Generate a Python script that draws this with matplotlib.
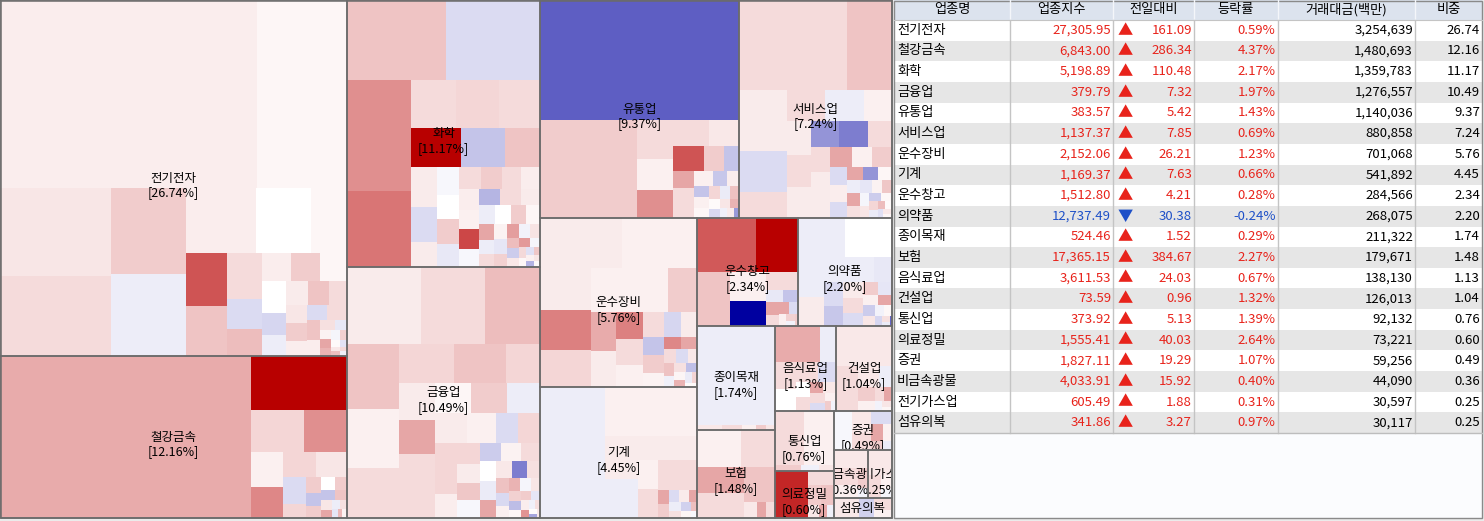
import numpy as np
import matplotlib.pyplot as plt
from matplotlib.patches import Rectangle
from matplotlib.transforms import Bbox, TransformedBbox

plt.rcParams['font.family'] = ['Noto Sans CJK KR', 'DejaVu Sans']

#--------------------- sector table --------------------------

sectors = ['전기전자', '철강금속', '화학', '금융업', '유통업', '서비스업', '운수장비', '기계',
           '운수창고', '의약품', '종이목재', '보험', '음식료업', '건설업', '통신업', '의료정밀',
           '증권', '비금속광물', '전기가스업', '섬유의복']
index_vals = [27305.95, 6843.00, 5198.89, 379.79, 383.57, 1137.37, 2152.06, 1169.37, 1512.80, 12737.49,
              524.46, 17365.15, 3611.53, 73.59, 373.92, 1555.41, 1827.11, 4033.91, 605.49, 341.86]
diff_vals = [161.09, 286.34, 110.48, 7.32, 5.42, 7.85, 26.21, 7.63, 4.21, -30.38,
             1.52, 384.67, 24.03, 0.96, 5.13, 40.03, 19.29, 15.92, 1.88, 3.27]
pct_vals = [0.59, 4.37, 2.17, 1.97, 1.43, 0.69, 1.23, 0.66, 0.28, -0.24,
            0.29, 2.27, 0.67, 1.32, 1.39, 2.64, 1.07, 0.40, 0.31, 0.97]
amount_vals = [3254639, 1480693, 1359783, 1276557, 1140036, 880858, 701068, 541892, 284566, 268075,
               211322, 179671, 138130, 126013, 92132, 73221, 59256, 44090, 30597, 30117]
weight_vals = [26.74, 12.16, 11.17, 10.49, 9.37, 7.24, 5.76, 4.45, 2.34, 2.20,
               1.74, 1.48, 1.13, 1.04, 0.76, 0.60, 0.49, 0.36, 0.25, 0.25]
headers = ['업종명', '업종지수', '전일대비', '등락률', '거래대금(백만)', '비중']

#--------------------- stocks inside each sector (size, change %) --------------------------

elec_w = [47564, 16732, 9592, 8720, 6364, 6068, 4450, 3500, 2280, 2204, 2028, 1560, 1014, 930, 837, 775,
          800, 750, 500, 504, 400, 380, 320, 500, 400, 300, 250, 200, 500, 300, 100, 150, 120, 100, 90,
          80, 70, 60, 50, 40, 40, 30, 30]
elec_c = [0.7, 0.35, 1.0, 1.4, 2.0, -0.7, 0.7, 0.0, 0.35, 6.7, 2.3, 1.4, -1.4, 2.6, 0.7, 0.35,
          2.0, 0.0, 2.3, -1.6, 1.0, 2.0, 0.7, 0.8, 1.4, 1.4, 2.3, 0.7, -0.7, -1.4, 3.5, 1.2, -0.9, 0.5, 3.0,
          -0.4, 1.8, 0.2, -1.1, 2.5, 0.9, -0.6, 1.5]

steel_w = [39528, 4998, 2160, 1760, 1102, 828, 759, 957, 608, 234, 169, 169, 143, 195, 304,
           150, 120, 100, 80, 70, 60, 50, 40, 40]
steel_c = [3.3, 11.0, 1.6, 4.4, 0.6, 1.6, 1.0, 4.7, -1.4, 2.0, 0.0, 2.0, -2.3, -2.3, 1.6,
           2.0, 2.3, 1.0, 3.5, -0.7, 1.2, -1.0, 0.5, 2.8]

chem_w = [7821, 7505, 7056, 4788, 2162, 2021, 1974, 1938, 1672, 1368, 1066, 936, 676, 609, 525, 504,
          525, 484, 462, 440, 420, 380, 342, 300, 400, 380, 360, 340, 320, 300, 280, 260, 240, 220,
          200, 190, 180, 170, 160, 150, 140, 130, 120, 110, 100, 90, 80, 70, 60, 55, 50, 45, 40, 35]
chem_c = [2.3, -1.4, 4.4, 5.4, 1.4, 1.6, 1.4, 11.0, -2.3, 2.3, 0.8, -1.4, 0.8, -0.3, 2.0, -0.9,
          0.0, 1.4, 2.0, 1.4, 0.7, 7.2, -2.9, 0.0, 0.7, 0.6, -0.3, 1.4, 0.8, -0.7, 2.0, 0.35, 3.5, -0.7,
          1.4, 0.5, -1.0, 1.8, 3.8, -0.5, 1.1, 2.6, -2.0, 0.9, 4.0, -0.4, 1.5, 0.3, -1.2, 2.2, 0.6, -3.0, 1.0, 0.2]

fin_w = [5698, 4928, 4235, 3397, 2107, 1978, 3040, 1330, 1330, 2627, 1221, 1184, 1064, 1073, 1102, 962,
         660, 682, 572, 988, 858, 506, 506, 480, 400, 420, 400, 380, 360, 340, 320, 300, 280, 260, 240,
         220, 200, 180, 160, 150, 140, 130, 120, 110, 100, 90, 80, 70, 60, 50, 45, 40, 35, 30]
fin_c = [0.8, 1.4, 2.6, 2.3, 1.6, 2.3, 0.6, 0.8, 1.6, 1.4, 3.5, 1.4, 2.0, 0.35, 1.4, 0.8,
         1.6, -1.4, 1.6, -0.7, 0.6, 0.7, 1.6, 1.6, -0.3, 0.8, 2.2, -2.0, 0.5, 1.4, 0.0, -0.8, 3.5, 0.9, -5.1,
         1.2, 2.4, -1.5, 0.6, 3.0, -0.4, 1.0, 1.8, -2.6, 0.3, 2.0, -1.0, 0.7, 4.2, -0.6, 1.3, 0.1, -3.5, 0.9]

dist_w = [24079, 9506, 1406, 1147, 1036, 760, 520, 924, 780, 360, 340, 280, 340, 300,
          200, 180, 170, 160, 150, 140, 130, 120, 110, 100, 90, 80, 70, 60, 50]
dist_c = [-6.3, 2.0, 1.4, 0.6, 4.4, 6.7, 2.0, 1.4, 0.9, -2.3, 1.4, 0.6, 3.5, 1.4,
          -2.2, 0.7, -2.3, 0.6, 0.35, 1.6, -0.8, 2.4, 0.2, -1.5, 1.0, 3.0, -0.6, 0.8, -4.0]

serv_w = [9990, 4140, 3003, 1989, 1280, 1248, 1248, 884, 750, 750, 800, 832, 780, 638, 450, 396, 414,
          484, 440, 325, 300, 280, 435, 220, 200, 190, 180, 170, 160, 150, 140, 130, 120, 110, 100,
          90, 80, 70, 60, 55, 50, 45, 40]
serv_c = [1.4, 2.3, 0.8, -1.4, 1.4, -0.7, 1.4, 0.6, -5.1, -4.2, 1.4, 0.8, 0.8, 1.4, 0.8, 2.0, 0.6,
          1.4, 0.8, -1.4, 0.7, -1.4, 3.5, 3.5, -4.2, 0.35, -0.7, 3.5, 1.2, -1.0, 0.5, 2.2, -0.4, 1.0, -2.0,
          0.3, 1.6, -0.8, 2.6, 0.2, -1.2, 0.9, 0.4]

trans_w = [4100, 3750, 2142, 2091, 1836, 1890, 1290, 1598, 729, 900, 700, 986, 600, 500, 440, 400, 380,
           350, 300, 221, 200, 180, 160, 140, 130, 120, 110, 100, 90, 80, 70, 60, 50]
trans_c = [0.8, 0.6, 0.8, 5.0, 0.6, 1.6, 2.0, 0.6, 5.0, 0.8, 1.4, 3.3, 0.6, 1.4, -1.6, 0.8, -2.3,
           2.0, 0.5, 4.7, 3.5, 1.4, -1.4, 0.9, 2.4, -0.6, 1.2, -2.5, 0.4, 3.0, -0.8, 1.7, 0.2]

mach_w = [8515, 4508, 1430, 594, 748, 1302, 594, 748, 600, 560, 160, 150, 130, 120, 110, 100, 90, 80, 70, 60, 50]
mach_c = [-0.7, 0.6, 0.8, 1.4, 0.8, -0.7, 1.4, 0.8, 0.6, 1.4, 3.5, 2.0, -1.4, 0.8, 3.5, -0.7, 1.2, -1.8, 0.4, 2.5, -0.3]

ware_w = [3132, 2268, 924, 1728, 572, 1056, 200, 180, 160, 140, 120, 100, 80, 60, 50, 30]
ware_c = [6.5, 12.0, -12.0, 2.3, 1.4, 0.6, -0.9, -2.3, 3.5, 1.4, 3.5, -1.4, 0.6, 1.8, -0.5, 2.0]

pharm_w = [1950, 1911, 1120, 812, 468, 468, 342, 572, 754, 400, 300, 280, 200, 150,
           180, 160, 140, 120, 100, 90, 70, 50, 35, 20]
pharm_c = [-0.7, 0.0, -0.7, 0.8, -1.4, -0.9, 0.8, -0.7, -0.7, -2.2, 1.4, -1.4, 2.0, 3.5,
           -1.0, 0.6, -2.0, 1.0, -0.5, 0.3, -1.6, 1.2, -0.8, -6.0]

paper_w = [7623, 120, 100, 70, 50, 45]
paper_c = [-0.7, 0.9, 1.4, 0.6, 2.0, 1.0]

ins_w = [1634, 1292, 1215, 1080, 1152, 195, 150, 135]
ins_c = [0.6, 1.4, 3.5, 2.3, 1.4, 0.9, 3.5, 1.4]

food_w = [1586, 560, 580, 462, 440, 204, 153, 340, 216, 150, 150, 120, 80, 60, 50]
food_c = [3.3, 1.4, -0.7, 0.0, 1.4, 1.4, 3.5, -1.4, 0.0, 1.4, 0.9, -1.4, 0.6, 2.0, -0.5]

const_w = [1281, 1200, 1100, 500, 300, 250, 200, 150, 120, 80, 60, 50]
const_c = [0.9, 0.9, 1.4, 0.9, -0.7, 2.0, 0.6, 1.4, 3.5, -0.5, 1.0, 0.4]

tel_w = [1500, 1500, 150, 100, 80]
tel_c = [0.6, 1.4, 2.0, -0.6, 1.0]

med_w = [1833, 300, 400, 300, 150, 120, 100]
med_c = [8.5, 2.3, 1.4, 2.0, 0.9, 3.5, -0.6]

sec_w = [700, 400, 300, 250, 200, 150, 100, 80]
sec_c = [-0.3, 0.9, 1.4, -1.4, 3.5, 0.6, 2.0, -0.8]

nonm_w = [600, 400, 300, 200, 100]
nonm_c = [0.9, 1.4, 0.6, 2.0, -0.5]

util_w = [600, 300, 150, 100]
util_c = [0.9, 1.4, 0.6, -0.4]

text_w = [500, 300, 200, 150]
text_c = [0.9, -1.8, 1.4, 0.6]

stocks = [(elec_w, elec_c), (steel_w, steel_c), (chem_w, chem_c), (fin_w, fin_c), (dist_w, dist_c),
          (serv_w, serv_c), (trans_w, trans_c), (mach_w, mach_c), (ware_w, ware_c), (pharm_w, pharm_c),
          (paper_w, paper_c), (ins_w, ins_c), (food_w, food_c), (const_w, const_c), (tel_w, tel_c),
          (med_w, med_c), (sec_w, sec_c), (nonm_w, nonm_c), (util_w, util_c), (text_w, text_c)]


#--------------------- squarified treemap --------------------------

def normalize(vals, dx, dy):
    tot = float(sum(vals))
    return [v * dx * dy / tot for v in vals]

def layout(sizes, x, y, dx, dy):
    out = []
    if dx >= dy:
        w = sum(sizes) / dy
        for s in sizes:
            out.append((x, y, w, s / w))
            y += s / w
    else:
        h = sum(sizes) / dx
        for s in sizes:
            out.append((x, y, s / h, h))
            x += s / h
    return out

def leftover(sizes, x, y, dx, dy):
    if dx >= dy:
        w = sum(sizes) / dy
        return x + w, y, dx - w, dy
    h = sum(sizes) / dx
    return x, y + h, dx, dy - h

def worst(sizes, x, y, dx, dy):
    return max(max(r[2] / r[3], r[3] / r[2]) for r in layout(sizes, x, y, dx, dy))

def squarify(sizes, x, y, dx, dy):
    if len(sizes) == 0:
        return []
    if len(sizes) == 1:
        return layout(sizes, x, y, dx, dy)
    i = 1
    while i < len(sizes) and worst(sizes[:i], x, y, dx, dy) >= worst(sizes[:i + 1], x, y, dx, dy):
        i += 1
    nx, ny, ndx, ndy = leftover(sizes[:i], x, y, dx, dy)
    return layout(sizes[:i], x, y, dx, dy) + squarify(sizes[i:], nx, ny, ndx, ndy)

def heat(c):
    f = min(abs(c) / 10.0, 1.0)
    end = (184, 0, 0) if c >= 0 else (0, 0, 160)
    return tuple(((1 - f) * 255 + f * e) / 255 for e in end)


#--------------------- figure --------------------------

W, H = 1484, 521
fig = plt.figure(figsize=(W / 100, H / 100), dpi=100, facecolor='#EBEBEB')
ax = fig.add_axes([0, 0, 1, 1])
ax.set_xlim(0, W)
ax.set_ylim(H, 0)
ax.axis('off')

TW, TH = 892, 518
FS = 9
edge = '#6B6B6B'

sector_rects = squarify(normalize(amount_vals, TW, TH), 0, 0, TW, TH)

for k, (sx, sy, sdx, sdy) in enumerate(sector_rects):
    w, c = stocks[k]
    order = np.argsort(w, kind='stable')[::-1]
    ws = [w[j] for j in order]
    cs = [c[j] for j in order]
    for (x, y, dx, dy), ch in zip(squarify(normalize(ws, sdx, sdy), sx, sy, sdx, sdy), cs):
        ax.add_patch(Rectangle((x, y), dx, dy, facecolor=heat(ch), linewidth=0, antialiased=False))

for k, (sx, sy, sdx, sdy) in enumerate(sector_rects):
    ax.add_patch(Rectangle((sx, sy), sdx, sdy, fill=False, edgecolor=edge, linewidth=1.1))
    box = TransformedBbox(Bbox.from_extents(sx + 1, sy + 1, sx + sdx - 1, sy + sdy - 1), ax.transData)
    cx, cy = sx + sdx / 2, sy + sdy / 2
    for dy_, s in [(0, sectors[k]), (15, '[%.2f%%]' % weight_vals[k])]:
        t = ax.text(cx, cy + dy_, s, ha='center', va='center', fontsize=FS, color='black')
        t.set_clip_on(True)
        t.set_clip_path(None)
        t.set_clip_box(box)

ax.add_patch(Rectangle((0.5, 0.5), TW - 0.5, TH - 0.5, fill=False, edgecolor=edge, linewidth=1.1))

#--------------------- table --------------------------

cols = [894, 1010, 1113, 1194, 1278, 1415, 1482]
head_h = 20.0
row_h = 20.65
n = len(sectors)
table_bottom = head_h + n * row_h
red = '#E8231B'
blue = '#1E50C8'
TFS = 9.5

ax.add_patch(Rectangle((cols[0], 0), cols[-1] - cols[0], TH, facecolor='#FBFCFE', linewidth=0))
ax.add_patch(Rectangle((cols[0], 0), cols[-1] - cols[0], head_h, facecolor='#DCE3EE', linewidth=0))
for i in range(n):
    y0 = head_h + i * row_h
    ax.add_patch(Rectangle((cols[0], y0), cols[-1] - cols[0], row_h,
                           facecolor='white' if i % 2 == 0 else '#E6E6E6', linewidth=0))

for x in cols[1:-1]:
    ax.plot([x, x], [0, head_h], color='#F4F6FA', linewidth=1.0)
    ax.plot([x, x], [head_h, table_bottom], color='#C4C4C4', linewidth=1.0)
ax.plot([cols[0], cols[-1]], [head_h, head_h], color='#C4C4C4', linewidth=0.8)
ax.plot([cols[0], cols[-1]], [table_bottom, table_bottom], color='#BDBDBD', linewidth=1.0)
ax.add_patch(Rectangle((cols[0], 0.5), cols[-1] - cols[0], TH - 1, fill=False,
                       edgecolor='#8A8A8A', linewidth=1.0))

for j, hname in enumerate(headers):
    ax.text((cols[j] + cols[j + 1]) / 2, head_h / 2, hname, ha='center', va='center',
            fontsize=TFS, color='black')

for i in range(n):
    yc = head_h + (i + 0.5) * row_h
    col = red if diff_vals[i] >= 0 else blue
    ax.text(cols[0] + 3, yc, sectors[i], ha='left', va='center', fontsize=TFS, color='black')
    ax.text(cols[1] + 101, yc, '{:,.2f}'.format(index_vals[i]), ha='right', va='center',
            fontsize=TFS, color=col)
    ax.text(cols[2] + 12.5, yc, '▲' if diff_vals[i] >= 0 else '▼', ha='center', va='center',
            fontsize=11, color=col)
    ax.text(cols[3] - 2, yc, '{:.2f}'.format(abs(diff_vals[i])), ha='right', va='center',
            fontsize=TFS, color=col)
    ax.text(cols[4] - 2.5, yc, '{:.2f}%'.format(pct_vals[i]), ha='right', va='center',
            fontsize=TFS, color=col)
    ax.text(cols[5] - 2, yc, '{:,}'.format(amount_vals[i]), ha='right', va='center',
            fontsize=TFS, color='black')
    ax.text(cols[6] - 2, yc, '{:.2f}'.format(weight_vals[i]), ha='right', va='center',
            fontsize=TFS, color='black')

fig.savefig('out.png', dpi=100, facecolor=fig.get_facecolor())
